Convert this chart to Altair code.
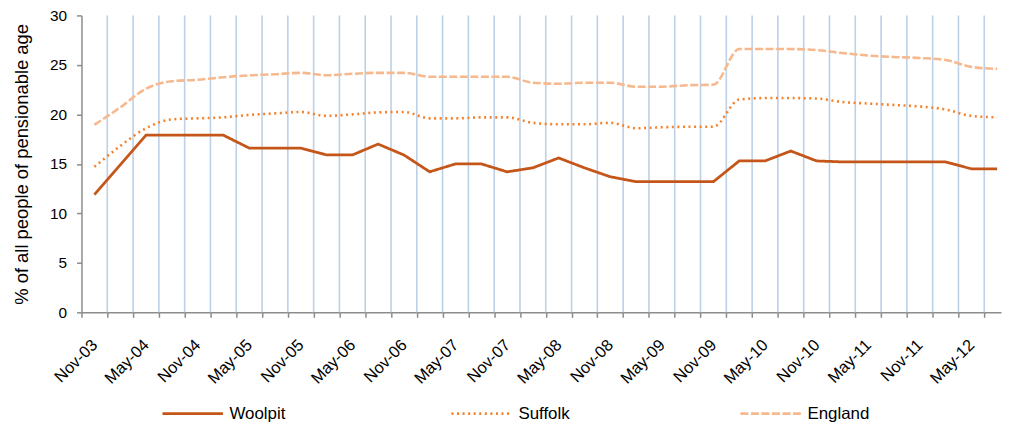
import altair as alt
import pandas as pd

quarters = [
    "Nov-03", "Feb-04", "May-04", "Aug-04", "Nov-04", "Feb-05", "May-05", "Aug-05",
    "Nov-05", "Feb-06", "May-06", "Aug-06", "Nov-06", "Feb-07", "May-07", "Aug-07",
    "Nov-07", "Feb-08", "May-08", "Aug-08", "Nov-08", "Feb-09", "May-09", "Aug-09",
    "Nov-09", "Feb-10", "May-10", "Aug-10", "Nov-10", "Feb-11", "May-11", "Aug-11",
    "Nov-11", "Feb-12", "May-12", "Aug-12",
]
woolpit = [11.9, 14.9, 17.9, 17.9, 17.9, 17.9, 16.6, 16.6, 16.6, 15.9, 15.9, 17.0,
           15.9, 14.2, 15.0, 15.0, 14.2, 14.6, 15.6, 14.6, 13.7, 13.2, 13.2, 13.2,
           13.2, 15.3, 15.3, 16.3, 15.3, 15.2, 15.2, 15.2, 15.2, 15.2, 14.5, 14.5]
suffolk = [14.7, 16.8, 18.6, 19.5, 19.6, 19.7, 19.95, 20.1, 20.25, 19.85, 20.0, 20.2,
           20.25, 19.6, 19.6, 19.7, 19.7, 19.15, 19.0, 19.0, 19.15, 18.6, 18.7, 18.75,
           18.75, 21.5, 21.65, 21.65, 21.6, 21.25, 21.1, 20.95, 20.8, 20.5, 19.85, 19.7]
england = [18.95, 20.7, 22.6, 23.35, 23.5, 23.75, 23.95, 24.05, 24.2, 23.95, 24.1, 24.2,
           24.2, 23.8, 23.8, 23.8, 23.8, 23.2, 23.1, 23.2, 23.2, 22.8, 22.8, 22.95,
           23.0, 26.6, 26.6, 26.6, 26.5, 26.2, 25.95, 25.8, 25.7, 25.5, 24.8, 24.6]
series_names = ["Woolpit", "Suffolk", "England"]
series_colors = ["#C5561A", "#F5822A", "#F7B88E"]
series_dash = [[1, 0], [2, 3.6], [8, 2.6]]
y_ticks = [0, 5, 10, 15, 20, 25, 30]

FONT = "Liberation Sans"
n = len(quarters)

rows = []
for name, vals in zip(series_names, [woolpit, suffolk, england]):
    for i, v in enumerate(vals):
        rows.append({"pos": i + 0.5, "quarter": quarters[i], "series": name, "value": v})
df = pd.DataFrame(rows)

label_pos = [i + 0.5 for i in range(0, n, 2)]
label_map = {str(i + 0.5): quarters[i] for i in range(0, n, 2)}
label_expr = "{" + ",".join(f"'{k}':'{v}'" for k, v in label_map.items()) + "}[toString(datum.value)]"

grid_df = pd.DataFrame({"g": list(range(1, n))})

# the last category is partly cut at the right edge, as in the reference
xscale = alt.Scale(domain=[0, n - 0.35], nice=False, zero=False)
yscale = alt.Scale(domain=[0, 30], nice=False)

legend = alt.Legend(title=None, orient="none", legendX=80, legendY=369,
                    direction="horizontal", columns=3, gridAlign="all",
                    columnPadding=155, symbolType="stroke", symbolSize=3700,
                    symbolStrokeWidth=2.6, labelFont=FONT, labelFontSize=17,
                    labelColor="#000000", labelOffset=5)
color = alt.Color("series:N", scale=alt.Scale(domain=series_names, range=series_colors),
                  legend=legend)
dash = alt.StrokeDash("series:N", scale=alt.Scale(domain=series_names, range=series_dash),
                      legend=legend)

grid = alt.Chart(grid_df).mark_rule(color="#BCD0E8", strokeWidth=1.6).encode(
    x=alt.X("g:Q", scale=xscale,
            axis=alt.Axis(values=list(range(0, n)), labels=False, title=None, grid=False,
                          ticks=True, tickSize=5, tickColor="#8C8C8C", tickWidth=1.5,
                          domainColor="#8C8C8C", domainWidth=1.5, orient="bottom")),
)

yaxis = alt.Axis(values=y_ticks, title="% of all people of pensionable age", grid=False,
                 tickSize=5, tickColor="#8C8C8C", tickWidth=1.5, domainColor="#8C8C8C",
                 domainWidth=1.5, labelFont=FONT, labelFontSize=15.5, labelColor="#000000",
                 labelPadding=10, titleFont=FONT, titleFontSize=18.5, titleFontWeight="normal",
                 titleColor="#000000", titlePadding=18)

xlab_axis = alt.Axis(values=label_pos, labelExpr=label_expr, title=None, grid=False,
                     ticks=False, domain=False, labelAngle=315, labelAlign="right",
                     labelBaseline="middle", labelPadding=30, labelFont=FONT,
                     labelFontSize=16.5, labelColor="#000000", orient="bottom",
                     labelOverlap=False)

wool = alt.Chart(df).transform_filter(alt.datum.series == "Woolpit").mark_line(
    strokeWidth=2.8, interpolate="linear", strokeCap="butt").encode(
    x=alt.X("pos:Q", scale=xscale, axis=xlab_axis),
    y=alt.Y("value:Q", scale=yscale, axis=yaxis),
    color=color, strokeDash=dash,
)
others = alt.Chart(df).transform_filter(alt.datum.series != "Woolpit").mark_line(
    strokeWidth=2.6, interpolate="monotone", strokeCap="butt").encode(
    x=alt.X("pos:Q", scale=xscale, axis=None),
    y=alt.Y("value:Q", scale=yscale, axis=yaxis),
    color=color, strokeDash=dash,
    detail="series:N",
)

chart = alt.layer(grid, wool, others).resolve_axis(x="independent").properties(
    width=926, height=299,
    autosize=alt.AutoSizeParams(type="none"),
    padding={"left": 74, "top": 6, "right": 2, "bottom": 117},
).configure_view(stroke=None)

chart.save("out.html", embed_options={"renderer": "svg", "actions": False})
